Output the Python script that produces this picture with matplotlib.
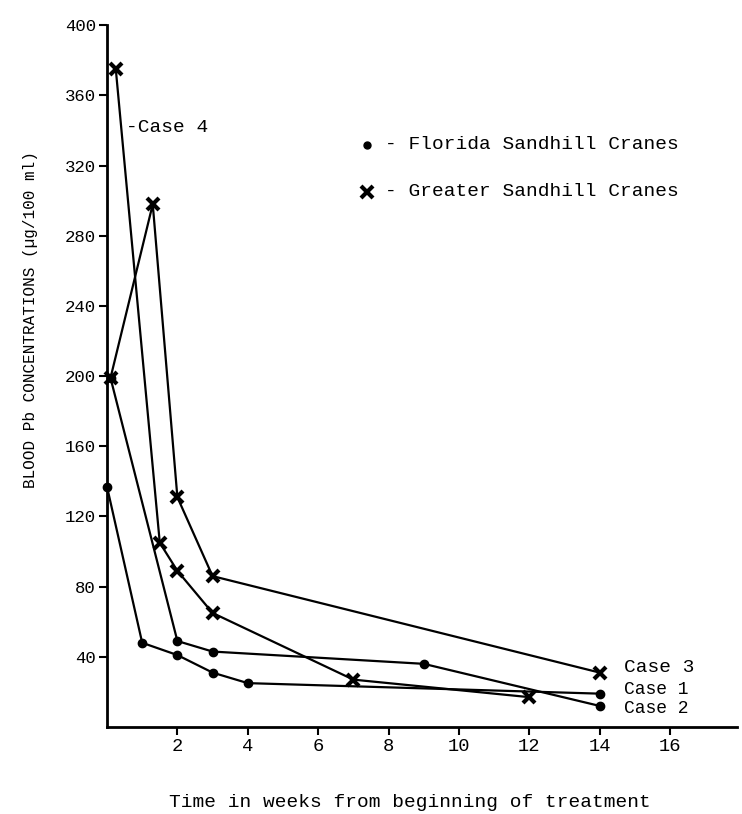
import matplotlib
matplotlib.use('Agg')
import matplotlib.pyplot as plt

plt.rcParams['font.family'] = ['Liberation Mono', 'DejaVu Sans Mono']

# Florida sandhill cranes (dots)
case1_weeks = [0, 1, 2, 3, 4, 14]
case1_pb = [137, 48, 41, 31, 25, 19]
case2_weeks = [0.1, 2, 3, 9, 14]
case2_pb = [199, 49, 43, 36, 12]

# Greater sandhill cranes (crosses)
case3_weeks = [0.1, 1.3, 2, 3, 14]
case3_pb = [199, 298, 131, 86, 31]
case4_weeks = [0.25, 1.5, 2, 3, 7, 12]
case4_pb = [375, 105, 89, 65, 27, 17]

yticks = [40, 80, 120, 160, 200, 240, 280, 320, 360, 400]
xticks = [2, 4, 6, 8, 10, 12, 14, 16]

fig = plt.figure(figsize=(7.42, 8.14), dpi=100)
ax = fig.add_axes([0.1442, 0.1069, 0.849, 0.862])

dot = dict(color='black', lw=1.6, marker='o', ms=6, clip_on=False)
cross = dict(color='black', lw=1.6, marker='x', ms=9, mew=3, clip_on=False)

ax.plot(case1_weeks, case1_pb, **dot)
ax.plot(case2_weeks, case2_pb, **dot)
ax.plot(case3_weeks, case3_pb, **cross)
ax.plot(case4_weeks, case4_pb, **cross)

ax.set_xlim(0, 17.9)
ax.set_ylim(0, 400)
ax.spines['top'].set_visible(False)
ax.spines['right'].set_visible(False)
ax.spines['left'].set_linewidth(2)
ax.spines['bottom'].set_linewidth(2)

ax.set_xticks(xticks)
ax.set_xticklabels([str(t) for t in xticks], fontsize=13.5)
ax.set_yticks(yticks)
ax.set_yticklabels([str(t) for t in yticks], fontsize=12.5)
ax.tick_params(axis='both', direction='out', length=6, width=1.5, pad=2)

ax.set_ylabel('BLOOD Pb CONCENTRATIONS (\u00b5g/100 ml)', fontsize=11.5)
ax.yaxis.set_label_coords(-0.11, 0.58)
ax.set_xlabel('Time in weeks from beginning of treatment', fontsize=14)
ax.xaxis.set_label_coords(0.48, -0.095)

# legend written as text, like the original
ax.plot([7.4], [332], marker='o', ms=5, color='black', clip_on=False)
ax.text(7.9, 332, '- Florida Sandhill Cranes', fontsize=14, va='center')
ax.plot([7.4], [305], marker='x', ms=8, mew=3, color='black', clip_on=False)
ax.text(7.9, 305, '- Greater Sandhill Cranes', fontsize=14, va='center')

# case labels
ax.text(0.55, 342, '-Case 4', fontsize=14, va='center')
ax.text(14.7, 34, 'Case 3', fontsize=14, va='center')
ax.text(14.7, 21.5, 'Case 1', fontsize=13, va='center')
ax.text(14.7, 10.5, 'Case 2', fontsize=13, va='center')

fig.savefig('out.png', dpi=100)
